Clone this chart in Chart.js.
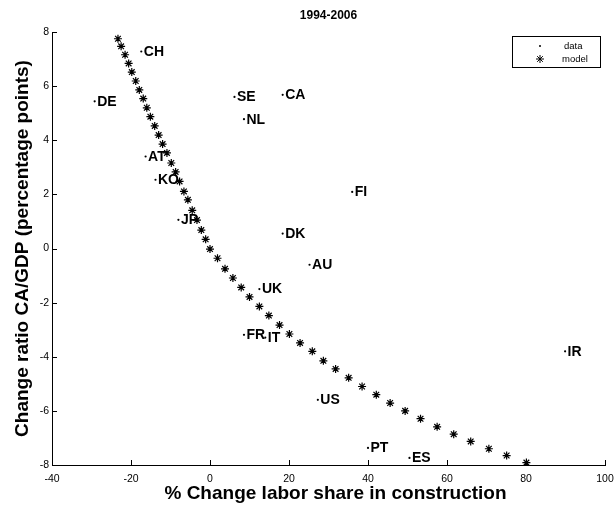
<!DOCTYPE html>
<html><head><meta charset="utf-8">
<script src="https://cdn.jsdelivr.net/npm/chart.js@4.4.1/dist/chart.umd.min.js"></script>
<style>html,body{margin:0;padding:0;background:#fff}#wrap{width:614px;height:512px}</style>
</head><body><div id="wrap"><canvas id="c" width="614" height="512"></canvas></div>
<script>
const titleText = '1994-2006';
const xTitle = '% Change labor share in construction';
const yTitle = 'Change ratio CA/GDP (percentage points)';
const countries = ['CH','DE','AT','KO','JP','SE','CA','NL','FI','DK','AU','UK','FR','IT','US','PT','ES','IR'];
const dataX = [-17.4,-29.2,-16.3,-13.8,-8.0,6.2,18.4,8.6,36.0,18.4,25.2,12.5,8.6,14.0,27.3,40.0,50.5,89.9];
const dataY = [7.28,5.44,3.40,2.54,1.06,5.60,5.68,4.78,2.09,0.55,-0.60,-1.50,-3.19,-3.29,-5.59,-7.37,-7.74,-3.80];
const modelX = [-23.3,-22.5,-21.5,-20.6,-19.8,-18.8,-17.9,-16.9,-16.0,-15.1,-14.0,-13.0,-12.0,-10.9,-9.8,-8.7,-7.7,-6.6,-5.6,-4.5,-3.3,-2.2,-1.1,0.0,1.9,3.8,5.8,7.9,10.0,12.5,14.9,17.6,20.1,22.8,25.9,28.7,31.8,35.1,38.5,42.1,45.6,49.4,53.3,57.5,61.7,66.0,70.6,75.1,80.1];
const modelY = [7.75,7.47,7.16,6.84,6.52,6.19,5.86,5.54,5.20,4.87,4.53,4.19,3.86,3.53,3.16,2.83,2.48,2.11,1.80,1.41,1.05,0.68,0.34,-0.02,-0.36,-0.75,-1.09,-1.44,-1.79,-2.14,-2.48,-2.83,-3.16,-3.49,-3.80,-4.15,-4.45,-4.78,-5.10,-5.40,-5.71,-6.00,-6.29,-6.59,-6.86,-7.13,-7.40,-7.65,-7.91];
const xTicks = [-40,-20,0,20,40,60,80,100];
const yTicks = [-8,-6,-4,-2,0,2,4,6,8];
const legendLabels = ['data','model'];

const FONT = '"Liberation Sans", Arial, sans-serif';

const extras = {
  id: 'extras',
  afterDraw(chart) {
    const ctx = chart.ctx, ca = chart.chartArea;
    const xs = chart.scales.x, ys = chart.scales.y;
    ctx.save();
    // inward ticks
    ctx.strokeStyle = '#000'; ctx.lineWidth = 1;
    ctx.beginPath();
    xTicks.forEach(v => { const px = Math.round(xs.getPixelForValue(v)) + 0.5; ctx.moveTo(px, ca.bottom); ctx.lineTo(px, ca.bottom - 5); });
    yTicks.forEach(v => { const py = Math.round(ys.getPixelForValue(v)) + 0.5; ctx.moveTo(ca.left, py); ctx.lineTo(ca.left + 5, py); });
    ctx.stroke();
    // country labels
    const meta = chart.getDatasetMeta(0);
    ctx.fillStyle = '#000';
    ctx.font = 'bold 14px ' + FONT;
    ctx.textBaseline = 'middle'; ctx.textAlign = 'left';
    meta.data.forEach((pt, i) => { ctx.fillText(countries[i], pt.x + 2.5, pt.y + 0.5); });
    // title
    ctx.font = 'bold 12px ' + FONT;
    ctx.textAlign = 'center';
    ctx.fillText(titleText, (ca.left + ca.right) / 2, 16);
    // x axis title
    ctx.font = 'bold 19px ' + FONT;
    ctx.fillText(xTitle, (ca.left + ca.right) / 2 + 7, 494);
    // legend
    const bx = 512, by = 36, bw = 88, bh = 31;
    ctx.fillStyle = '#fff'; ctx.fillRect(bx, by, bw, bh);
    ctx.strokeStyle = '#000'; ctx.lineWidth = 1; ctx.strokeRect(bx + 0.5, by + 0.5, bw, bh);
    ctx.fillStyle = '#000';
    ctx.beginPath(); ctx.arc(540, 46, 1, 0, Math.PI * 2); ctx.fill();
    Chart.helpers.drawPoint(ctx, {pointStyle: 'star', radius: 4, borderWidth: 1.2}, 540, 59);
    ctx.font = '9.5px ' + FONT; ctx.textAlign = 'left';
    ctx.fillText(legendLabels[0], 564, 46);
    ctx.fillText(legendLabels[1], 562, 59);
    ctx.restore();
  }
};

new Chart(document.getElementById('c'), {
  type: 'scatter',
  data: {
    datasets: [
      { label: legendLabels[0], data: dataX.map((x, i) => ({x, y: dataY[i]})), pointStyle: 'circle', pointRadius: 1.1, backgroundColor: '#000', borderColor: '#000', borderWidth: 0 },
      { label: legendLabels[1], data: modelX.map((x, i) => ({x, y: modelY[i]})), pointStyle: 'star', pointRadius: 4, borderColor: '#000', backgroundColor: '#000', borderWidth: 1.2 }
    ]
  },
  options: {
    responsive: false, animation: false, devicePixelRatio: 1,
    layout: { padding: { top: 32, right: 9, left: 0, bottom: 0 } },
    plugins: { legend: { display: false }, tooltip: { enabled: false } },
    scales: {
      x: {
        type: 'linear', min: -40, max: 100,
        afterBuildTicks: s => { s.ticks = xTicks.map(v => ({value: v})); },
        afterFit: s => { s.height = 47; s.paddingLeft = 0; s.paddingRight = 0; },
        grid: { display: false, drawTicks: false },
        border: { display: true, color: '#000', width: 1 },
        ticks: { color: '#000', font: { family: FONT, size: 10.5 }, padding: 8, maxRotation: 0 },
        title: { display: false, text: xTitle }
      },
      y: {
        type: 'linear', min: -8, max: 8,
        afterBuildTicks: s => { s.ticks = yTicks.map(v => ({value: v})); },
        afterFit: s => { s.width = 52; s.paddingTop = 0; s.paddingBottom = 0; },
        grid: { display: false, drawTicks: false },
        border: { display: true, color: '#000', width: 1 },
        ticks: { color: '#000', font: { family: FONT, size: 10.5 }, padding: 3 },
        title: { display: true, text: yTitle, color: '#000', font: { family: FONT, size: 19, weight: 'bold' }, padding: { top: 11, bottom: 0 } }
      }
    }
  },
  plugins: [extras]
});
</script></body></html>
